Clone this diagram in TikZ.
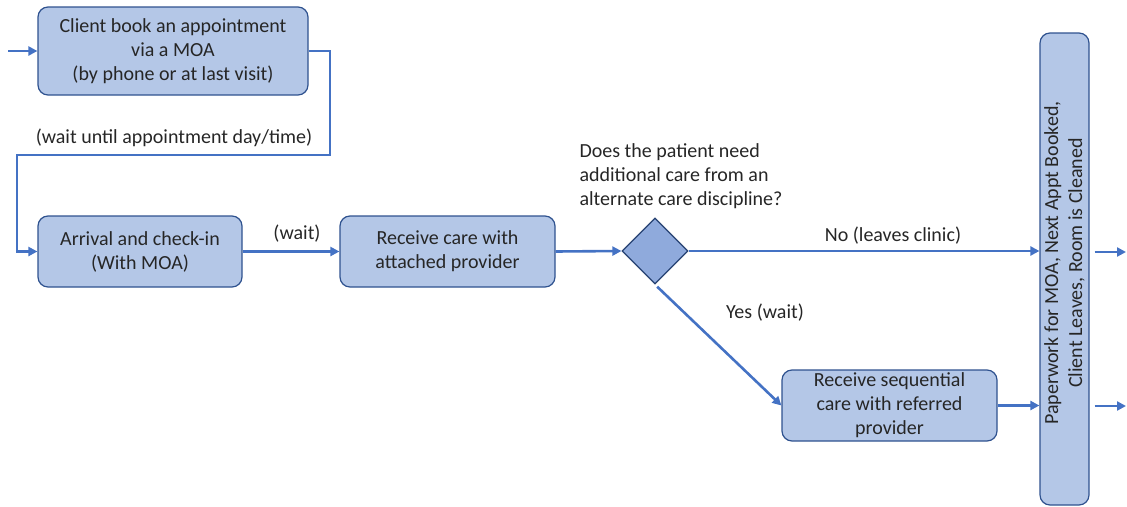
\documentclass[tikz,border=0pt]{standalone}
\usepackage{fontspec}
\setmainfont{Carlito}
\usetikzlibrary{arrows.meta,shapes.geometric}
\definecolor{boxfill}{HTML}{B4C7E7}
\definecolor{boxline}{HTML}{2F528F}
\definecolor{arrowblue}{HTML}{4472C4}
\definecolor{diafill}{HTML}{8FAADC}
\tikzset{
  stepbox/.style={draw=boxline, line width=1.2pt, fill=boxfill, rounded corners=10pt,
    align=center, inner sep=0pt, font=\fontsize{20}{24}\selectfont, text=black!85},
  decision/.style={diamond, draw=boxline!80!black, line width=1.2pt, fill=diafill,
    minimum width=66pt, minimum height=66pt, inner sep=0pt},
  lbl/.style={font=\fontsize{20}{24}\selectfont, text=black!85, inner sep=0pt},
  flow/.style={draw=arrowblue, line width=2.6pt, -{Triangle[length=9pt,width=9pt]}},
}
\begin{document}
\begin{tikzpicture}[x=1pt,y=-1pt]
\useasboundingbox (0,0) rectangle (1127,506);

% process boxes
\node[stepbox, minimum width=270pt, minimum height=88pt] (b1) at (173,51)
  {Client book an appointment\\via a MOA\\(by phone or at last visit)};
\node[stepbox, minimum width=204pt, minimum height=71pt] (b2) at (140,251.5)
  {Arrival and check-in\\(With MOA)};
\node[stepbox, minimum width=215pt, minimum height=71pt] (b3) at (447.5,251.5)
  {Receive care with\\attached provider};
\node[decision] (d) at (655,251) {};
\node[stepbox, minimum width=215pt, minimum height=71pt] (b4) at (889.5,405.5)
  {Receive sequential\\care with referred\\provider};
\node[stepbox, minimum width=49pt, minimum height=472pt] (t) at (1064.5,269) {};
\node[lbl, rotate=90, align=center] (tt) at (1064.5,263)
  {Paperwork for MOA, Next Appt Booked,\\Client Leaves, Room is Cleaned};

% free labels
\node[lbl, align=left] (q) at (681,176)
  {Does the patient need\\additional care from an\\alternate care discipline?};
\node[lbl] (w0) at (174,138) {(wait until appointment day/time)};
\node[lbl] (w1) at (297,234) {(wait)};
\node[lbl] (no) at (893,236) {No (leaves clinic)};
\node[lbl] (yes) at (765,313) {Yes (wait)};

% helper points
\coordinate (in) at (8,51);
\coordinate (c1) at (330,155);
\coordinate (c2) at (17,155);
\coordinate (out1) at (1126,252);
\coordinate (out2) at (1126,406);

% connectors
\draw[flow] (in) -- (b1.west);
\draw[flow, -{Triangle[length=9pt,width=9pt]}] (b1.east) -| (c1) -- (c2) |- (b2.west);
\draw[flow] (b2.east) -- (b3.west);
\draw[flow] (b3.east) -- (d.west);
\draw[flow] (d.east) -- (t.west |- d.east);
\draw[flow, shorten <=3pt] (d.south) -- (b4.west);
\draw[flow] (b4.east) -- (t.west |- b4.east);
\draw[flow, shorten <=5pt] (t.east |- out1) -- (out1);
\draw[flow, shorten <=5pt] (t.east |- out2) -- (out2);
\end{tikzpicture}
\end{document}
